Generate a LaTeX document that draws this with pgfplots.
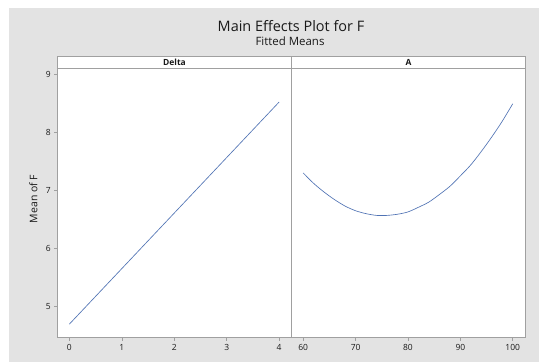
\documentclass[border=0pt]{standalone}
\usepackage{fontspec}
\setmainfont{Open Sans}
\usepackage{pgfplots}
\pgfplotsset{compat=1.18}
\definecolor{bgray}{RGB}{227,227,227}
\definecolor{fgray}{RGB}{160,160,160}
\definecolor{lblue}{RGB}{80,115,180}
\definecolor{tdark}{RGB}{25,25,25}
\begin{document}
\begin{tikzpicture}[x=1bp,y=1bp]
\fill[white] (0,0) rectangle (539,362);
\fill[bgray] (9,0) rectangle (539,353.5);
\pgfplotsset{panel/.style={scale only axis, height=269.2bp, anchor=south west,
  axis background/.style={fill=white},
  axis line style={fgray, line width=0.8bp},
  tick style={fgray, line width=0.6bp}, major tick length=3bp, tick align=outside,
  tick pos=left, ymin=4.47, ymax=9.1,
  tick label style={font=\fontsize{8.5}{10}\selectfont, text=tdark},
  /pgf/number format/assume math mode=true}}
\begin{axis}[panel, at={(57.3bp,24.5bp)}, width=234.4bp,
  xmin=-0.23, xmax=4.24, xtick={0,1,2,3,4}, ytick={5,6,7,8,9}]
\addplot[lblue, line width=0.65bp] coordinates {(0,4.70) (4,8.52)};
\end{axis}
\begin{axis}[panel, at={(291.7bp,24.5bp)}, width=233.6bp,
  xmin=57.8, xmax=102.4, xtick={60,70,80,90,100}, ytick=\empty]
\addplot[lblue, line width=0.65bp, smooth] coordinates {
(60,7.30) (62,7.12) (64,6.97) (66,6.84) (68,6.73) (70,6.65) (72,6.60) (74,6.57)
(76,6.57) (78,6.59) (80,6.63) (82,6.71) (84,6.80) (86,6.93) (88,7.07) (90,7.25)
(92,7.44) (94,7.67) (96,7.92) (98,8.19) (100,8.49)};
\end{axis}
\draw[fgray, line width=0.8bp, fill=white] (57.3,293.7) rectangle (525.3,306);
\draw[fgray, line width=0.8bp] (291.7,293.7) -- (291.7,306);
\node[font=\bfseries\fontsize{8.5}{10}\selectfont, text=tdark] at (174.5,299.8) {Delta};
\node[font=\bfseries\fontsize{8.5}{10}\selectfont, text=tdark] at (408.5,299.8) {A};
\node[font=\fontsize{14.5}{16}\selectfont, text=tdark, anchor=base] at (291,330.3) {Main Effects Plot for F};
\node[font=\fontsize{11.5}{13}\selectfont, text=tdark, anchor=base] at (290,317) {Fitted Means};
\node[font=\fontsize{10.5}{12}\selectfont, text=tdark, rotate=90] at (33.3,163) {Mean of F};
\end{tikzpicture}
\end{document}
